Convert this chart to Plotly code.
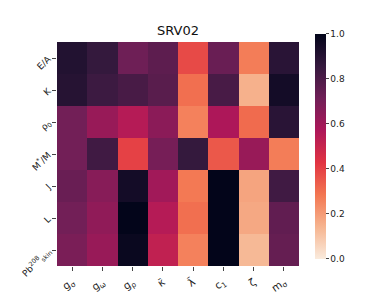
import plotly.graph_objects as go

x_labels = ["g<sub>σ</sub>", "g<sub>ω</sub>", "g<sub>ρ</sub>", "κ\u0304", "λ\u0304", "c<sub>1</sub>", "ζ", "m<sub>σ</sub>"]
y_labels = ["E/A", "K", "ρ<sub>0</sub>", "M<sup>*</sup>/M", "J", "L", "Pb<sup>208</sup><sub>skin</sub>"]

row_EA = [0.91, 0.86, 0.72, 0.76, 0.38, 0.73, 0.27, 0.89]
row_K = [0.90, 0.84, 0.81, 0.77, 0.30, 0.81, 0.15, 0.95]
row_rho = [0.71, 0.62, 0.55, 0.65, 0.26, 0.57, 0.31, 0.89]
row_Mstar = [0.71, 0.83, 0.40, 0.70, 0.86, 0.35, 0.62, 0.27]
row_J = [0.73, 0.66, 0.95, 0.60, 0.28, 1.00, 0.18, 0.83]
row_L = [0.71, 0.64, 1.00, 0.55, 0.30, 1.00, 0.17, 0.75]
row_Pb = [0.69, 0.62, 0.98, 0.52, 0.26, 1.00, 0.13, 0.74]

z = [row_EA, row_K, row_rho, row_Mstar, row_J, row_L, row_Pb]

rocket_r = [
    [0.0, "#FAEBDD"], [0.143, "#F6B48F"], [0.286, "#F37651"], [0.429, "#E13342"],
    [0.571, "#AD1759"], [0.714, "#701F57"], [0.857, "#35193E"], [1.0, "#03051A"],
]

W, H = 391, 293

fig = go.Figure(go.Heatmap(
    z=z, x=x_labels, y=y_labels, colorscale=rocket_r, zmin=0, zmax=1,
    colorbar=dict(thickness=11, len=225, lenmode="pixels",
                  y=1 - 34 / H, yanchor="top", yref="container",
                  x=307 / W, xref="container", xanchor="left", xpad=0, ypad=0,
                  tickvals=[0, 0.2, 0.4, 0.6, 0.8, 1.0], tickformat=".1f",
                  ticks="outside", ticklen=3, outlinewidth=0,
                  tickfont=dict(size=9, family="DejaVu Sans", color="#222")),
))

fig.update_layout(
    width=W, height=H,
    margin=dict(l=49, r=100, t=34, b=35),
    paper_bgcolor="white", plot_bgcolor="white",
    title=dict(text="SRV02", x=170 / W, xanchor="center", y=1 - 22 / H, yanchor="middle",
               font=dict(size=13, family="DejaVu Sans", color="#111")),
    font=dict(family="DejaVu Sans", color="#222"),
)
fig.update_xaxes(tickangle=-35, ticks="outside", ticklen=4, tickfont=dict(size=10.5),
                 ticklabelstandoff=1, showgrid=False, automargin=False)
fig.update_yaxes(autorange="reversed", tickangle=-45, ticks="outside", ticklen=4,
                 tickfont=dict(size=9), ticklabelstandoff=2, showgrid=False, automargin=False)

fig.write_html("out.html")
